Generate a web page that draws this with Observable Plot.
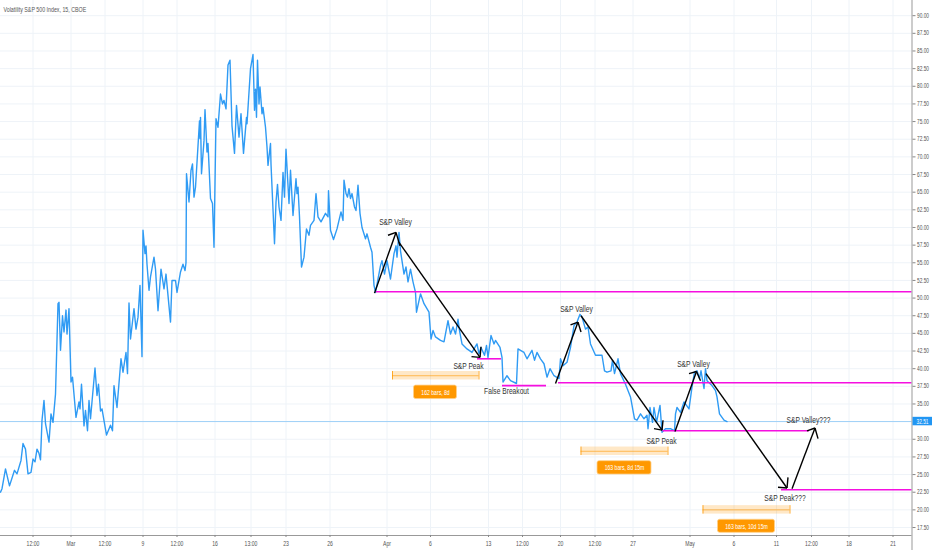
<!DOCTYPE html>
<html>
<head>
<meta charset="utf-8">
<style>
html,body{margin:0;padding:0;background:#fff;overflow:hidden}
svg{display:block;overflow:hidden}
</style>
<script src="https://cdn.jsdelivr.net/npm/d3@7"></script>
<script src="https://cdn.jsdelivr.net/npm/@observablehq/plot@0.6"></script>
</head>
<body>
<div id="chart"></div>
<script>
const titleText = "Volatility S&P 500 Index, 15, CBOE";
const lastPrice = 32.51;

// VIX series as [bar position, value]
const vix = [[0,22.5],[3,23],[10,25.8],[18,23.4],[28,25.6],[33,25.1],[41,27],[45,29.4],[50,28.6],[55,25.1],[61,25.3],[65,27.2],[69,26.8],[73,28.6],[77,28],[80,27.1],[83,32.7],[87,35.5],[90,32.2],[97,29.6],[101,33.6],[105,32.4],[110,36.4],[115,49.2],[117,49.4],[120,42.6],[124,47.5],[127,45.2],[131,48.3],[133,44.9],[137,48.5],[141,38.1],[144,38.8],[151,33.1],[157,35.3],[159,34.3],[162,37.8],[167,31.9],[170,34.1],[174,31.2],[177,35.5],[180,32.9],[189,40.1],[193,36.2],[196,37.8],[200,34],[203,34.3],[212,30.6],[220,32],[224,31.2],[227,37.6],[233,34.5],[241,41.4],[245,39.5],[251,42.3],[254,39.3],[257,49.3],[260,44.2],[267,48.5],[271,45.6],[275,47.3],[279,51.8],[283,41.7],[285,59.6],[289,56.3],[291,57.4],[293,54.8],[297,51.1],[300,53],[307,55.8],[310,54.1],[315,48.2],[321,54.1],[327,51.3],[331,53.4],[340,46.6],[343,52.5],[350,52.5],[353,50.8],[360,53.7],[365,54.8],[369,53.9],[371,55],[372,67.6],[377,63.6],[381,68.1],[384,69],[387,64.3],[390,65.7],[398,75.1],[399,72.6],[400,75.6],[402,67.6],[407,72.3],[409,76.7],[413,70.7],[415,71.9],[420,64.1],[424,63.4],[427,57.2],[431,75.4],[435,74.2],[440,78.9],[444,77.5],[447,78],[451,76.8],[455,83],[459,83.7],[463,74.4],[468,70.5],[472,77.3],[477,72.8],[481,76.1],[486,70.5],[492,75.6],[493,74.7],[500,82.5],[505,84.5],[508,76.6],[510,79.6],[512,75.6],[514,83.7],[517,77.5],[519,79.9],[523,76.1],[525,77],[530,74.2],[533,71.4],[535,68.8],[540,71.9],[541,69],[548,57.7],[551,63.6],[554,66.1],[557,62.9],[561,61],[565,67.8],[568,64.3],[571,71.1],[577,63.4],[580,68.1],[585,61.7],[591,66.9],[593,64.8],[595,65.7],[598,61.5],[602,54.4],[607,55.8],[612,59.8],[617,58.9],[620,60.3],[627,61],[631,64.8],[635,61.5],[641,60.8],[650,62],[655,61.5],[656,65.2],[660,59.6],[666,58.3],[673,59.8],[681,62.2],[685,61],[687,66.7],[691,64.8],[694,64.3],[697,65.5],[700,64.1],[703,64.8],[708,62.9],[711,62.4],[715,66],[719,62],[723,60],[730,58.4],[733,59.1],[740,57.2],[743,56.5],[747,51.8],[750,50.8],[760,54.6],[763,55.3],[768,53.4],[773,55.3],[780,52.7],[787,56.3],[791,57.4],[793,55.8],[797,59.3],[800,56.7],[807,53.4],[811,54.4],[815,52.3],[820,54.1],[825,52.3],[830,50.8],[832,48],[840,50.6],[847,49.2],[857,48],[861,44.2],[865,45.4],[870,44.5],[880,44],[887,43.8],[895,46.8],[900,44.9],[905,45.9],[910,44.9],[915,47],[918,45.4],[923,43.5],[933,42.8],[943,42.3],[953,43.5],[957,42.1],[961,43],[968,41.9],[972,43.3],[975,41.6],[981,44.7],[987,43.5],[990,44],[999,43],[1003,41.6],[1005,38.1],[1013,39],[1020,38.3],[1032,37.9],[1035,42.8],[1040,42.6],[1047,42.3],[1053,41.4],[1063,42.6],[1068,41.2],[1073,42.3],[1080,41.4],[1087,40.7],[1093,38.8],[1099,40],[1107,39],[1117,38.6],[1120,41.4],[1125,40.4],[1133,40.9],[1140,43],[1147,46.1],[1153,46.6],[1159,47.7],[1163,47.3],[1170,45.6],[1175,45.9],[1180,43.5],[1190,41.9],[1197,41.9],[1203,41.9],[1208,39.7],[1213,39.5],[1221,39.7],[1224,41.2],[1228,39.3],[1235,41.4],[1240,39.3],[1250,37.8],[1260,36],[1268,32.9],[1273,32.7],[1280,33.6],[1287,32.9],[1293,33.4],[1295,31.5],[1299,34.5],[1304,32.4],[1307,34.5],[1312,32.4],[1319,34.8],[1323,31],[1330,31.5],[1340,31.5],[1348,31.2],[1350,33.6],[1353,34.5],[1360,33.8],[1367,35.3],[1377,34.3],[1383,37.4],[1388,39.5],[1393,39.7],[1398,38.6],[1401,39.7],[1407,37.2],[1410,40],[1413,38.3],[1423,37.6],[1430,36.9],[1433,36],[1438,33.6],[1447,32.7],[1453,32.5]];

// Drawn support/resistance levels: [start bar, end bar, value]
const levels = [[752,1823,50.9],[954,1002,41.4],[1004,1092,37.6],[1116,1823,38],[1325,1618,31.2],[1562,1823,22.85]];

// Drawn arrows: shaft start, shaft tip, head barb 1, head barb 2 as bar,value pairs
const arrows = [
  [748,50.7,791,59.3,775,58.9,799,57.4],
  [797,57.9,959,41.6,942,41.7,961,43.1],
  [1110,37.9,1155,46.6,1140,46.2,1161,45.2],
  [1161,47.5,1323,31.3,1307,31.5,1325,32.7],
  [1349,31.1,1392,39.6,1377,39.3,1400,38.3],
  [1411,39.3,1573,23.1,1555,23.2,1575,24.6],
  [1583,23,1629,31.6,1613,31.2,1635,30.1]
];

// Text notes
const notes = [
  ["S&P Valley",790,60.7],["S&P Peak",936,40.4],["False Breakout",1012,36.8],
  ["S&P Valley",1152,48.5],["S&P Peak",1322,29.7],["S&P Valley",1386,40.7],
  ["S&P Valley???",1616,32.65],["S&P Peak???",1569,21.7]
];

// Date ranges: start, end, low, mid, high
const ranges = [[784,957,38.4,39,39.6],[1161,1335,27.7,28.3,28.9],[1405,1579,19.4,20,20.6]];
// Range labels: text, start, end, low, high
const rangeLabels = [["162 bars, 8d",827,913,35.7,37.6],["163 bars, 8d 15m",1194,1302,25,26.9],["163 bars, 10d 15m",1435,1549,16.75,18.6]];

const xTickBars = [65,141,209,285,353,429,501,571,659,773,860,976,1044,1120,1189,1265,1379,1467,1552,1622,1697,1785];
const xTickLabels = ["12:00","Mar","12:00","9","12:00","16","13:00","23","26","Apr","6","13","12:00","20","12:00","27","May","6","11","12:00","18","21"];
const yTicks = [17.5,20,22.5,25,27.5,30,32.5,35,37.5,40,42.5,45,47.5,50,52.5,55,57.5,60,62.5,65,67.5,70,72.5,75,77.5,80,82.5,85,87.5,90];

const labelFont = "Liberation Sans, sans-serif";
const gridColor = "#eef3f8";
const orange = "#ff9800";

const chart = Plot.plot({
  width: 932, height: 550,
  marginTop: 0, marginRight: 20.5, marginBottom: 15, marginLeft: 0,
  style: {background: "#fff", fontFamily: labelFont},
  x: {domain: [0,1823], label: null},
  y: {domain: [16.37,92.15], label: null},
  marks: [
    Plot.ruleY(yTicks, {stroke: gridColor, strokeWidth: 1}),
    Plot.ruleX(xTickBars, {stroke: gridColor, strokeWidth: 1}),
    Plot.ruleY([lastPrice], {stroke: "#9fd0f7", strokeWidth: 1}),
    Plot.line(vix, {x: d=>d[0], y: d=>d[1], stroke: "#2f9bf4", strokeWidth: 1.4, strokeLinejoin: "round"}),
    // date ranges
    Plot.rect(ranges, {x1: d=>d[0], x2: d=>d[1], y1: d=>d[2], y2: d=>d[4], fill: orange, fillOpacity: 0.22}),
    Plot.ruleY(ranges, {x1: d=>d[0], x2: d=>d[1], y: d=>d[3], stroke: orange, strokeOpacity: 0.6, strokeWidth: 1}),
    Plot.ruleX(ranges, {x: d=>d[0], y1: d=>d[2], y2: d=>d[4], stroke: orange, strokeOpacity: 0.8, strokeWidth: 1}),
    Plot.ruleX(ranges, {x: d=>d[1], y1: d=>d[2], y2: d=>d[4], stroke: orange, strokeOpacity: 0.8, strokeWidth: 1}),
    Plot.rect(rangeLabels, {x1: d=>d[1], x2: d=>d[2], y1: d=>d[3], y2: d=>d[4], fill: orange, rx: 2, stroke: "#ffd08a", strokeWidth: 0.8}),
    Plot.text(rangeLabels, {x: d=>(d[1]+d[2])/2, y: d=>(d[3]+d[4])/2, text: d=>d[0], fill: "#fff", fontSize: 7.5}),
    // levels
    Plot.ruleY(levels, {x1: d=>d[0], x2: d=>d[1], y: d=>d[2], stroke: "#f50fe0", strokeWidth: 1.6}),
    // arrows
    Plot.link(arrows, {x1: d=>d[0], y1: d=>d[1], x2: d=>d[2], y2: d=>d[3], stroke: "#000", strokeWidth: 1.4}),
    Plot.link(arrows, {x1: d=>d[4], y1: d=>d[5], x2: d=>d[2], y2: d=>d[3], stroke: "#000", strokeWidth: 1.4}),
    Plot.link(arrows, {x1: d=>d[6], y1: d=>d[7], x2: d=>d[2], y2: d=>d[3], stroke: "#000", strokeWidth: 1.4}),
    // notes
    Plot.text(notes, {x: d=>d[1], y: d=>d[2], text: d=>d[0], fill: "#333", fontSize: 9}),
    Plot.text([titleText], {x: 6, y: 90.9, text: d=>d, textAnchor: "start", fill: "#555", fontSize: 8}),
    // axes
    Plot.ruleX([1823], {stroke: "#999", strokeWidth: 1, y1: 14.17, y2: 92.15}),
    Plot.ruleY([16.37], {stroke: "#999", strokeWidth: 1}),
    Plot.axisX({ticks: xTickBars, tickFormat: d=>xTickLabels[xTickBars.indexOf(d)], tickSize: 2, tickPadding: 3, stroke: "#888", fill: "#555", fontSize: 7.5, label: null}),
    Plot.axisY({anchor: "right", ticks: yTicks.filter(v=>v!==32.5), tickFormat: d=>d.toFixed(2), tickSize: 3, tickPadding: 2, stroke: "#888", fill: "#555", fontSize: 6.5, label: null}),
    // current price tag on the right axis
    Plot.rect([lastPrice], {x1: 1825, x2: 1864, y1: d=>d-0.6, y2: d=>d+0.6, fill: "#2196f3"}),
    Plot.text([lastPrice], {x: 1832, y: d=>d, text: d=>d.toFixed(2), textAnchor: "start", fill: "#fff", fontSize: 6.5})
  ]
});
document.getElementById("chart").append(chart);

// The reference's lettering is horizontally condensed: narrow each text to match.
const squeeze = {"9": 0.74, "8": 0.66, "7.5": 0.68, "6.5": 0.74};
chart.querySelectorAll("text").forEach(t => {
  const size = parseFloat(getComputedStyle(t).fontSize);
  const f = squeeze[String(size)] ?? 0.7;
  const w = t.getComputedTextLength();
  if (w > 0) {
    t.setAttribute("textLength", (w*f).toFixed(1));
    t.setAttribute("lengthAdjust", "spacingAndGlyphs");
  }
});
</script>
</body>
</html>
